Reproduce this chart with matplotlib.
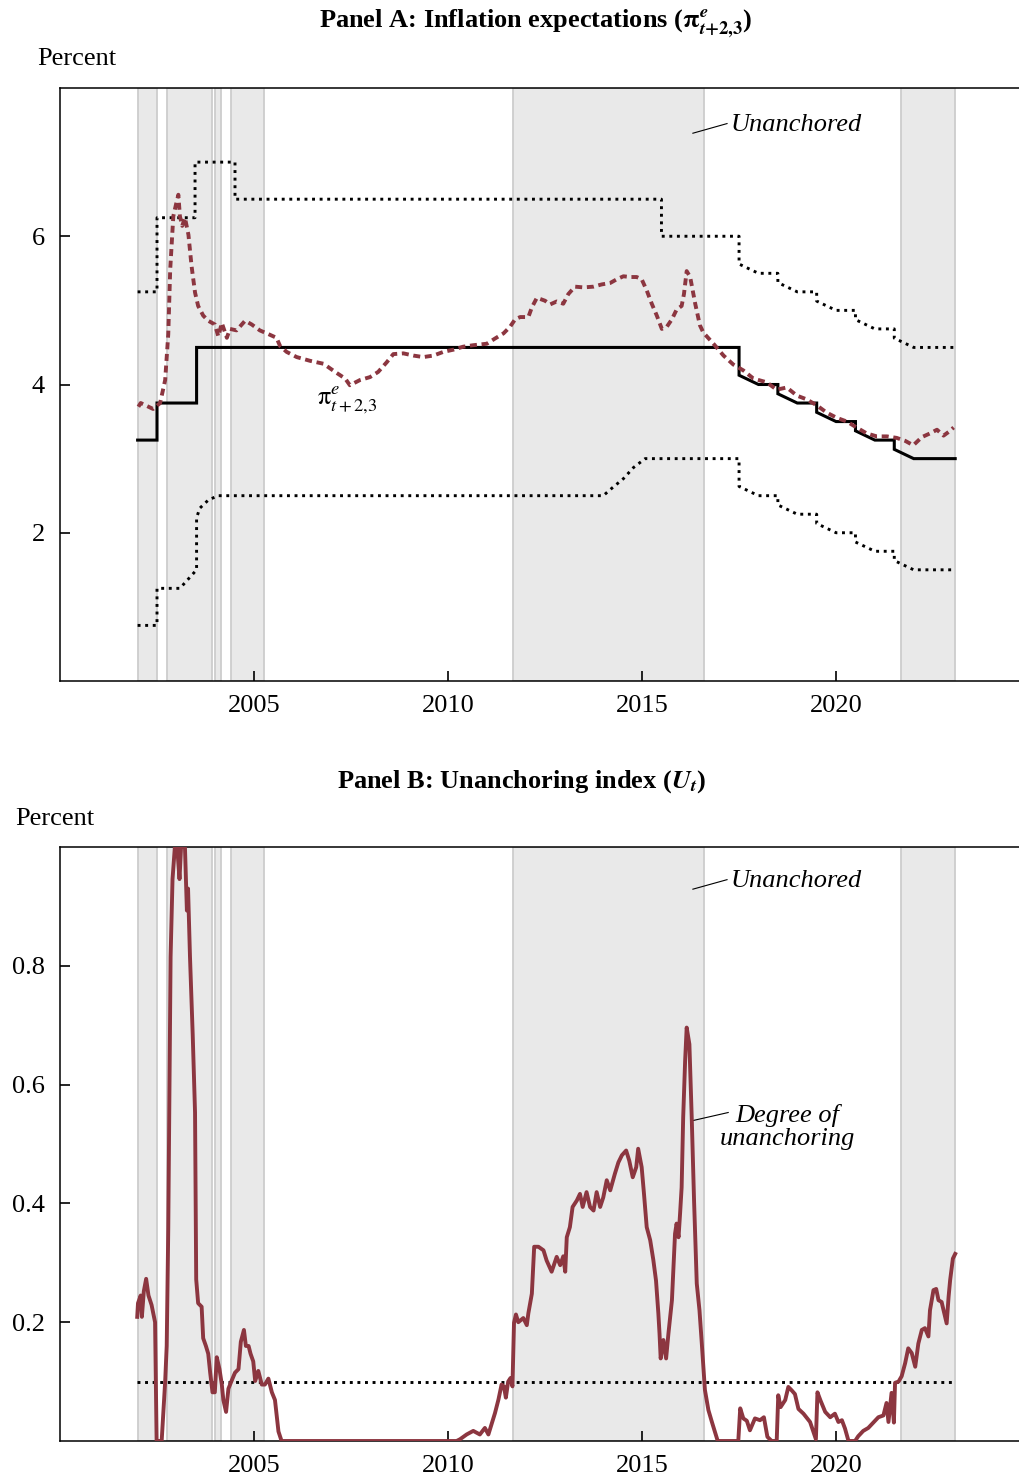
import numpy as np
import matplotlib
matplotlib.use('Agg')
from matplotlib import pyplot as plt

plt.rcParams['font.family'] = ['Liberation Serif', 'DejaVu Serif']
plt.rcParams['mathtext.fontset'] = 'stix'

# shaded "unanchored" episodes (decimal years)
band_start = [2002.0, 2002.75, 2004.0, 2004.41, 2011.68, 2021.68]
band_end = [2002.49, 2003.91, 2004.15, 2005.26, 2016.59, 2023.07]

# target centre and tolerance bounds
center_x = [2002.0, 2002.5, 2002.5, 2003.52, 2003.52, 2017.5, 2017.5, 2018.0, 2018.5, 2018.5, 2019.0, 2019.5,
            2019.5, 2020.0, 2020.5, 2020.5, 2021.0, 2021.5, 2021.5, 2022.0, 2023.07]
center_y = [3.25, 3.25, 3.75, 3.75, 4.5, 4.5, 4.125, 4.0, 4.0, 3.875, 3.75, 3.75,
            3.625, 3.5, 3.5, 3.375, 3.25, 3.25, 3.125, 3.0, 3.0]

upper_x = [2002.0, 2002.5, 2002.5, 2003.48, 2003.48, 2004.51, 2004.51, 2015.5, 2015.5, 2017.5, 2017.5, 2018.0,
           2018.5, 2018.5, 2019.0, 2019.5, 2019.5, 2020.0, 2020.5, 2020.5, 2021.0, 2021.5, 2021.5, 2022.0, 2023.07]
upper_y = [5.25, 5.25, 6.25, 6.25, 7.0, 7.0, 6.5, 6.5, 6.0, 6.0, 5.625, 5.5,
           5.5, 5.375, 5.25, 5.25, 5.125, 5.0, 5.0, 4.875, 4.75, 4.75, 4.625, 4.5, 4.5]

lower_x = [2002.0, 2002.5, 2002.5, 2003.09, 2003.52, 2003.52, 2003.6, 2003.82, 2004.07, 2014.0, 2014.22, 2014.52,
           2014.78, 2015.08, 2017.5, 2017.5, 2018.0, 2018.5, 2018.5, 2019.0, 2019.5, 2019.5, 2020.0, 2020.5,
           2020.5, 2021.0, 2021.5, 2021.5, 2022.0, 2023.07]
lower_y = [0.75, 0.75, 1.25, 1.25, 1.5, 2.2, 2.33, 2.44, 2.5, 2.5, 2.6, 2.73,
           2.88, 3.0, 3.0, 2.625, 2.5, 2.5, 2.375, 2.25, 2.25, 2.125, 2.0, 2.0,
           1.875, 1.75, 1.75, 1.625, 1.5, 1.5]

# expected inflation, t+2/t+3 average
exp_x = [2002.02, 2002.08, 2002.20, 2002.40, 2002.58, 2002.71, 2002.79, 2002.84, 2002.92, 2002.99, 2003.05,
         2003.09, 2003.15, 2003.22, 2003.31, 2003.39, 2003.48, 2003.56, 2003.69, 2003.82, 2003.99, 2004.08,
         2004.17, 2004.30, 2004.38, 2004.55, 2004.77, 2004.94, 2005.15, 2005.37, 2005.58, 2005.67, 2005.84,
         2006.10, 2006.44, 2006.79, 2007.09, 2007.35, 2007.47, 2007.73, 2007.99, 2008.20, 2008.42, 2008.59,
         2008.85, 2009.11, 2009.36, 2009.62, 2009.88, 2010.14, 2010.39, 2010.65, 2011.00, 2011.21, 2011.43,
         2011.60, 2011.73, 2011.86, 2012.07, 2012.16, 2012.29, 2012.50, 2012.63, 2012.80, 2012.97, 2013.10,
         2013.27, 2013.49, 2013.75, 2013.96, 2014.18, 2014.35, 2014.52, 2014.69, 2014.86, 2014.99, 2015.12,
         2015.25, 2015.38, 2015.51, 2015.64, 2015.77, 2015.89, 2016.02, 2016.08, 2016.15, 2016.24, 2016.37,
         2016.49, 2016.58, 2016.84, 2017.10, 2017.35, 2017.61, 2017.87, 2018.21, 2018.47, 2018.73, 2018.99,
         2019.24, 2019.50, 2019.76, 2020.02, 2020.28, 2020.53, 2020.79, 2021.05, 2021.31, 2021.56, 2021.78,
         2021.99, 2022.21, 2022.42, 2022.60, 2022.77, 2022.90, 2023.03]
exp_y = [3.70, 3.75, 3.72, 3.67, 3.75, 4.06, 4.68, 5.55, 6.27, 6.43, 6.56,
         6.27, 6.14, 6.25, 6.02, 5.60, 5.24, 5.06, 4.93, 4.86, 4.81, 4.65,
         4.83, 4.63, 4.75, 4.73, 4.86, 4.81, 4.73, 4.68, 4.63, 4.52, 4.44,
         4.37, 4.32, 4.28, 4.17, 4.08, 3.99, 4.06, 4.10, 4.17, 4.30, 4.41,
         4.42, 4.39, 4.37, 4.39, 4.44, 4.47, 4.51, 4.53, 4.55, 4.62, 4.69,
         4.78, 4.88, 4.91, 4.91, 5.04, 5.17, 5.13, 5.08, 5.12, 5.09, 5.22,
         5.32, 5.31, 5.32, 5.35, 5.37, 5.42, 5.46, 5.45, 5.45, 5.42, 5.27,
         5.09, 4.93, 4.75, 4.78, 4.88, 5.01, 5.06, 5.22, 5.53, 5.45, 5.09,
         4.80, 4.70, 4.55, 4.39, 4.27, 4.19, 4.08, 4.03, 3.93, 3.96, 3.85,
         3.80, 3.72, 3.62, 3.55, 3.50, 3.42, 3.34, 3.30, 3.30, 3.28, 3.24,
         3.18, 3.29, 3.34, 3.39, 3.31, 3.36, 3.42]

# unanchoring index
idx_x = [2001.99, 2002.01, 2002.08, 2002.11, 2002.16, 2002.22, 2002.28, 2002.36, 2002.45, 2002.49, 2002.62,
         2002.71, 2002.75, 2002.79, 2002.82, 2002.85, 2002.90, 2002.96, 2003.02, 2003.08, 2003.12, 2003.22,
         2003.27, 2003.30, 2003.35, 2003.42, 2003.48, 2003.51, 2003.56, 2003.65, 2003.69, 2003.76, 2003.82,
         2003.87, 2003.93, 2003.99, 2004.04, 2004.11, 2004.17, 2004.21, 2004.28, 2004.34, 2004.42, 2004.51,
         2004.60, 2004.66, 2004.74, 2004.79, 2004.86, 2004.91, 2004.98, 2005.03, 2005.11, 2005.20, 2005.28,
         2005.37, 2005.46, 2005.54, 2005.63, 2005.71, 2010.22, 2010.31, 2010.48, 2010.65, 2010.82, 2010.95,
         2011.04, 2011.12, 2011.21, 2011.30, 2011.38, 2011.44, 2011.49, 2011.55, 2011.61, 2011.66, 2011.70,
         2011.75, 2011.81, 2011.94, 2012.03, 2012.07, 2012.16, 2012.22, 2012.33, 2012.46, 2012.54, 2012.67,
         2012.80, 2012.89, 2012.97, 2013.02, 2013.06, 2013.14, 2013.21, 2013.32, 2013.40, 2013.47, 2013.57,
         2013.66, 2013.75, 2013.83, 2013.92, 2014.00, 2014.09, 2014.18, 2014.30, 2014.39, 2014.48, 2014.59,
         2014.67, 2014.76, 2014.85, 2014.90, 2014.99, 2015.05, 2015.12, 2015.21, 2015.29, 2015.36, 2015.42,
         2015.45, 2015.48, 2015.55, 2015.62, 2015.68, 2015.77, 2015.85, 2015.89, 2015.94, 2015.98, 2016.02,
         2016.06, 2016.11, 2016.15, 2016.22, 2016.28, 2016.34, 2016.41, 2016.48, 2016.54, 2016.62, 2016.71,
         2016.80, 2016.95, 2017.48, 2017.53, 2017.61, 2017.70, 2017.78, 2017.91, 2018.04, 2018.14, 2018.23,
         2018.34, 2018.47, 2018.51, 2018.57, 2018.69, 2018.77, 2018.86, 2018.94, 2019.03, 2019.16, 2019.33,
         2019.48, 2019.52, 2019.60, 2019.72, 2019.85, 2019.97, 2020.06, 2020.15, 2020.23, 2020.32, 2020.49,
         2020.57, 2020.70, 2020.83, 2020.96, 2021.09, 2021.22, 2021.30, 2021.35, 2021.43, 2021.49, 2021.52,
         2021.61, 2021.69, 2021.78, 2021.86, 2021.95, 2022.04, 2022.12, 2022.21, 2022.29, 2022.38, 2022.42,
         2022.51, 2022.58, 2022.64, 2022.72, 2022.81, 2022.85, 2022.90, 2022.94, 2023.01, 2023.07]
idx_y = [0.209, 0.232, 0.245, 0.209, 0.252, 0.273, 0.245, 0.229, 0.200, 0.0, 0.0,
         0.100, 0.160, 0.357, 0.586, 0.815, 0.946, 1.0, 1.0, 0.946, 1.0, 1.0,
         0.893, 0.930, 0.815, 0.684, 0.553, 0.272, 0.232, 0.226, 0.173, 0.160, 0.147,
         0.115, 0.082, 0.082, 0.141, 0.121, 0.095, 0.069, 0.049, 0.088, 0.101, 0.115,
         0.121, 0.167, 0.187, 0.160, 0.160, 0.147, 0.134, 0.101, 0.118, 0.095, 0.095,
         0.105, 0.082, 0.069, 0.016, 0.0, 0.0, 0.003, 0.011, 0.017, 0.011, 0.022,
         0.011, 0.028, 0.047, 0.070, 0.095, 0.092, 0.073, 0.100, 0.106, 0.092, 0.199,
         0.213, 0.200, 0.207, 0.195, 0.215, 0.248, 0.327, 0.327, 0.321, 0.304, 0.285,
         0.310, 0.296, 0.311, 0.285, 0.343, 0.360, 0.394, 0.405, 0.416, 0.394, 0.419,
         0.394, 0.388, 0.419, 0.394, 0.410, 0.439, 0.422, 0.450, 0.469, 0.481, 0.489,
         0.472, 0.444, 0.461, 0.492, 0.461, 0.416, 0.360, 0.338, 0.305, 0.270, 0.215,
         0.181, 0.139, 0.170, 0.139, 0.181, 0.237, 0.349, 0.366, 0.343, 0.383, 0.427,
         0.545, 0.640, 0.696, 0.668, 0.545, 0.405, 0.265, 0.220, 0.164, 0.086, 0.052,
         0.032, 0.0, 0.0, 0.055, 0.038, 0.034, 0.018, 0.038, 0.035, 0.040, 0.007,
         0.0, 0.0, 0.077, 0.057, 0.069, 0.091, 0.085, 0.079, 0.054, 0.046, 0.032,
         0.003, 0.082, 0.068, 0.049, 0.040, 0.046, 0.032, 0.035, 0.021, 0.0, 0.0,
         0.008, 0.017, 0.022, 0.031, 0.040, 0.043, 0.064, 0.032, 0.081, 0.031, 0.098,
         0.100, 0.109, 0.131, 0.156, 0.148, 0.125, 0.164, 0.187, 0.190, 0.176, 0.220,
         0.254, 0.256, 0.237, 0.234, 0.209, 0.198, 0.243, 0.271, 0.307, 0.315]

threshold = 0.1
years = [2005, 2010, 2015, 2020]

red = '#8c3640'
dotted = (0, (1, 1.6))


def style_axis(ax, ymin, ymax, yticks, yticklabels):
    ax.set_xlim(2000.0, 2024.74)
    ax.set_ylim(ymin, ymax)
    ax.set_xticks(years)
    ax.set_yticks(yticks)
    ax.set_yticklabels(yticklabels)
    ax.tick_params(direction='in', length=7, width=1.2, labelsize=19)
    ax.tick_params(axis='x', pad=10)
    ax.tick_params(axis='y', pad=11)
    ax.spines['right'].set_visible(False)
    for s in ['top', 'left', 'bottom']:
        ax.spines[s].set_linewidth(1.1)
    for s, e in zip(band_start, band_end):
        ax.axvspan(s, e, facecolor='#e9e9e9', edgecolor='#cdcdcd', lw=1.3, zorder=0)


fig = plt.figure(figsize=(10.2, 14.75), dpi=100)
W, H = 1020.0, 1475.0

# Panel A
axA = fig.add_axes([60 / W, 1 - 681 / H, 960 / W, 593 / H])
style_axis(axA, 0, 8, [2, 4, 6], ['2', '4', '6'])
axA.plot(upper_x, upper_y, color='black', lw=2.1, ls=dotted, zorder=3)
axA.plot(lower_x, lower_y, color='black', lw=2.1, ls=dotted, zorder=3)
axA.plot(center_x, center_y, color='black', lw=2.2, zorder=3, solid_joinstyle='miter')
axA.plot(exp_x, exp_y, color=red, lw=2.8, ls=(0, (1.8, 1.2)), zorder=4)

axA.plot([2016.31, 2017.19], [7.39, 7.52], color='black', lw=0.8)
axA.text(2017.29, 7.50, 'Unanchored', style='italic', fontsize=19, ha='left', va='center')
axA.text(2006.62, 3.78, r'$\mathrm{\pi}^{e}_{t+2{,}3}$', fontsize=19, ha='left', va='center')

fig.text(536 / W, 1 - 24 / H,
         r'Panel A: Inflation expectations ($\mathbf{\pi}^{\mathbfit{e}}_{\mathbfit{t}\mathbf{+2{,}3}}$)',
         fontsize=19, fontweight='bold', ha='center', va='center')
fig.text(37 / W, 1 - 59 / H, 'Percent', fontsize=19, ha='left', va='center')

# Panel B
axB = fig.add_axes([60 / W, 1 - 1441 / H, 960 / W, 594 / H])
style_axis(axB, 0, 1, [0.2, 0.4, 0.6, 0.8], ['0.2', '0.4', '0.6', '0.8'])
axB.hlines(threshold, idx_x[0], idx_x[-1], color='black', lw=2.1, linestyles=[dotted], zorder=3)
axB.plot(idx_x, idx_y, color=red, lw=2.8, zorder=4)

axB.plot([2016.31, 2017.19], [0.929, 0.945], color='black', lw=0.8)
axB.text(2017.29, 0.942, 'Unanchored', style='italic', fontsize=19, ha='left', va='center')
axB.plot([2016.28, 2017.22], [0.539, 0.553], color='black', lw=0.8)
axB.text(2018.74, 0.529, 'Degree of\nunanchoring', style='italic', fontsize=19, ha='center', va='center',
         linespacing=1.05)

fig.text(522 / W, 1 - 782 / H, r'Panel B: Unanchoring index ($\mathbfit{U}_{\mathbfit{t}}$)',
         fontsize=19, fontweight='bold', ha='center', va='center')
fig.text(15 / W, 1 - 819 / H, 'Percent', fontsize=19, ha='left', va='center')

fig.savefig('out.png', dpi=100)
